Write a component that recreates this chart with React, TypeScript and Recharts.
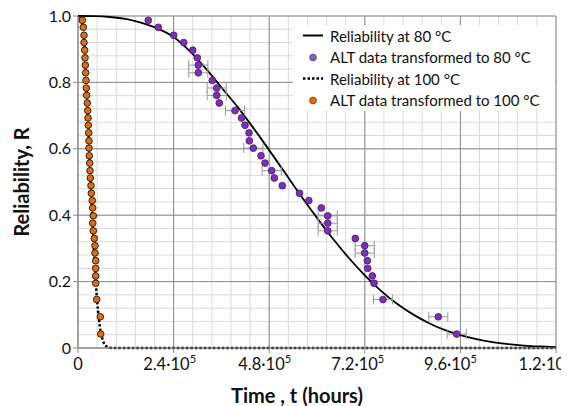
import React from 'react';
import {
  ComposedChart, Line, Scatter, XAxis, YAxis, CartesianGrid, ErrorBar, Legend,
} from 'recharts';

// ---- data ----
const rankR = [0.987, 0.966, 0.942, 0.920, 0.897, 0.874, 0.852, 0.829, 0.806, 0.783, 0.761, 0.738, 0.715,
  0.693, 0.671, 0.648, 0.624, 0.602, 0.579, 0.557, 0.534, 0.512, 0.489, 0.466, 0.444, 0.422, 0.398, 0.376,
  0.353, 0.330, 0.308, 0.286, 0.263, 0.240, 0.217, 0.195, 0.146, 0.094, 0.042];

const alt80T = [176500, 201600, 240300, 265400, 288000, 299500, 302000, 302000, 337200, 348200, 348200,
  354700, 394200, 410500, 419300, 429300, 430100, 440100, 459400, 469500, 486300, 492800, 512900, 556100,
  579400, 610800, 626900, 626900, 626900, 696200, 719800, 719800, 726300, 727300, 738800, 743100, 765700,
  904500, 950700];

const alt80Err = [0, 0, 0, 0, 0, 0, 24000, 24000, 0, 24000, 24000, 0, 24000, 0, 0, 0, 0, 24000, 0, 0, 24000,
  0, 0, 0, 0, 0, 24000, 24000, 24000, 0, 24000, 24000, 0, 0, 0, 0, 24000, 24000, 24000];

const alt100T = [10800, 13300, 15100, 15100, 16800, 17600, 18300, 19300, 20100, 20800, 21800, 23400, 24400,
  25100, 25900, 26900, 27600, 27600, 28400, 29400, 30100, 30900, 32600, 33400, 35900, 36900, 38400, 36900,
  38400, 40900, 42700, 42700, 44400, 44400, 44400, 44400, 46900, 56000, 57000];

const curve80T = [0, 40000, 80000, 120000, 160000, 200000, 240000, 280000, 320000, 360000, 400000, 440000,
  480000, 520000, 560000, 600000, 640000, 680000, 720000, 760000, 800000, 840000, 880000, 920000, 960000,
  1000000, 1040000, 1080000, 1120000, 1160000, 1200000];
const curve80R = [1, 0.9995, 0.997, 0.991, 0.979, 0.962, 0.937, 0.895, 0.843, 0.785, 0.727, 0.663, 0.596,
  0.527, 0.458, 0.392, 0.329, 0.271, 0.219, 0.173, 0.134, 0.102, 0.0755, 0.0545, 0.0386, 0.0266, 0.0179,
  0.0117, 0.0074, 0.0047, 0.0028];

const curve100T = [0, 5000, 10000, 15000, 20000, 25000, 30000, 35000, 40000, 45000, 50000, 55000, 60000,
  65000, 70000, 75000, 80000, 90000, 100000, 200000, 400000, 600000, 800000, 1000000, 1200000];
const curve100R = [1, 0.998, 0.985, 0.935, 0.82, 0.68, 0.545, 0.415, 0.295, 0.19, 0.115, 0.064, 0.033,
  0.015, 0.0066, 0.0026, 0.0009, 0.0001, 0, 0, 0, 0, 0, 0, 0];

const xTicks = [0, 240000, 480000, 720000, 960000, 1200000];
const xTickBase = ['0', '2.4·10', '4.8·10', '7.2·10', '9.6·10', '1.2·10'];
const xTickExp = ['', '5', '5', '5', '5', '6'];
const yTicks = [0, 0.2, 0.4, 0.6, 0.8, 1.0];
const yTickLabels = ['0', '0.2', '0.4', '0.6', '0.8', '1.0'];

const xMinor = [0, 48000, 96000, 144000, 192000, 240000, 288000, 336000, 384000, 432000, 480000, 528000,
  576000, 624000, 672000, 720000, 768000, 816000, 864000, 912000, 960000, 1008000, 1056000, 1104000,
  1152000, 1200000];
const yMinor = [0, 0.04, 0.08, 0.12, 0.16, 0.2, 0.24, 0.28, 0.32, 0.36, 0.4, 0.44, 0.48, 0.52, 0.56, 0.6,
  0.64, 0.68, 0.72, 0.76, 0.8, 0.84, 0.88, 0.92, 0.96, 1.0];

const legendNames = ['Reliability at 80 °C', 'ALT data transformed to 80 °C', 'Reliability at 100 °C',
  'ALT data transformed to 100 °C'];

// ---- tables built from the arrays ----
const curve80 = curve80T.map((t, i) => ({ t, R: curve80R[i] }));
const curve100 = curve100T.map((t, i) => ({ t, R: curve100R[i] }));
const alt80 = alt80T.map((t, i) => ({ t, R: rankR[i], err: alt80Err[i] }));
const alt100 = alt100T.map((t, i) => ({ t, R: rankR[i] }));

const FONT = "Lato, 'Open Sans', sans-serif";
const PURPLE = '#7B30B8';
const ORANGE = '#E46C0A';
const X_LABEL_SHIFT = [0, -4, -4.5, -7, -10, -11];

const XTick = (props: any) => {
  const { x, y, payload } = props;
  const idx = xTicks.indexOf(payload.value);
  return (
    <text x={x + (X_LABEL_SHIFT[idx] || 0)} y={y + 15} textAnchor="middle" fontSize={16.5} fontFamily={FONT} fill="#111">
      <tspan>{xTickBase[idx]}</tspan>
      {xTickExp[idx] ? <tspan dy={-7} fontSize={11}>{xTickExp[idx]}</tspan> : null}
    </text>
  );
};

const YTitle = (props: any) => {
  const vb = props.viewBox || { x: 0, y: 0, width: 0, height: 0 };
  const cx = vb.x + 14;
  const cy = vb.y + vb.height / 2;
  return (
    <text x={cx} y={cy} dy="0.35em" textAnchor="middle" transform={`rotate(-90, ${cx}, ${cy})`}
      fontSize={20} fontWeight="bold" fontFamily={FONT} fill="#111">Reliability, R</text>
  );
};

const LegendBox = () => {
  const row = (i: number, icon: React.ReactNode) => (
    <div key={i} style={{ display: 'flex', alignItems: 'center', height: 21.5 }}>
      <svg width={37} height={21} style={{ flex: 'none' }}>{icon}</svg>
      <span style={{ fontSize: 15, fontFamily: FONT, color: '#111', whiteSpace: 'nowrap' }}>{legendNames[i]}</span>
    </div>
  );
  return (
    <div style={{ background: '#fff', paddingTop: 0 }}>
      {row(0, <line x1={10} x2={30} y1={10.5} y2={10.5} stroke="#000" strokeWidth={2} />)}
      {row(1, <circle cx={20} cy={10.5} r={3.4} fill="#8064A2" stroke="#5a4678" strokeWidth={0.8} />)}
      {row(2, <line x1={10} x2={30} y1={10.5} y2={10.5} stroke="#000" strokeWidth={2.5} strokeDasharray="2.5 2" />)}
      {row(3, <circle cx={20} cy={10.5} r={3.4} fill={ORANGE} stroke="#7a3a08" strokeWidth={0.8} />)}
    </div>
  );
};

const purpleShape = (p: any) => (
  <circle cx={p.cx} cy={p.cy} r={3.4} fill={PURPLE} stroke="#4B1A75" strokeWidth={0.8} />
);
const orangeShape = (p: any) => (
  <circle cx={p.cx} cy={p.cy} r={3.3} fill={ORANGE} stroke="#2e2218" strokeWidth={1} />
);

export default function App() {
  return (
    <ComposedChart width={561} height={398} margin={{ top: 8, right: 13, bottom: 0, left: 0 }}>
      <CartesianGrid stroke="#d9d9d9" strokeWidth={1} horizontalValues={yMinor} verticalValues={xMinor} />
      <CartesianGrid stroke="#8a8a8a" strokeWidth={1} horizontalValues={yTicks} verticalValues={xTicks} fill="none" />
      <XAxis type="number" dataKey="t" domain={[0, 1200000]} ticks={xTicks} tick={<XTick />} height={58}
        stroke="#8a8a8a" tickSize={5} interval={0} allowDataOverflow
        label={{ value: 'Time , t (hours)', position: 'insideBottom', offset: 3, dx: -20, fontSize: 20,
          fontWeight: 'bold', fontFamily: FONT, fill: '#111' }} />
      <YAxis type="number" dataKey="R" domain={[0, 1]} ticks={yTicks} width={70} stroke="#8a8a8a" tickSize={5}
        interval={0} tickFormatter={(v: number) => yTickLabels[yTicks.indexOf(v)] ?? String(v)}
        tick={{ fontSize: 16, fontFamily: FONT, fill: '#111' }} label={<YTitle />} />
      <Line data={curve80} dataKey="R" type="monotone" stroke="#000" strokeWidth={1.8} dot={false}
        isAnimationActive={false} />
      <Line data={curve100} dataKey="R" type="monotone" stroke="#000" strokeWidth={2.5} strokeDasharray="2.5 2"
        dot={false} isAnimationActive={false} />
      <Scatter data={alt80} dataKey="R" shape={purpleShape} isAnimationActive={false}>
        <ErrorBar dataKey="err" direction="x" width={5} stroke="#9a9a9a" strokeWidth={1} />
      </Scatter>
      <Scatter data={alt100} dataKey="R" shape={orangeShape} isAnimationActive={false} />
      <Legend layout="horizontal" verticalAlign="middle" align="center" content={<LegendBox />}
        wrapperStyle={{ top: 17, left: 285, width: 262 }} />
    </ComposedChart>
  );
}
